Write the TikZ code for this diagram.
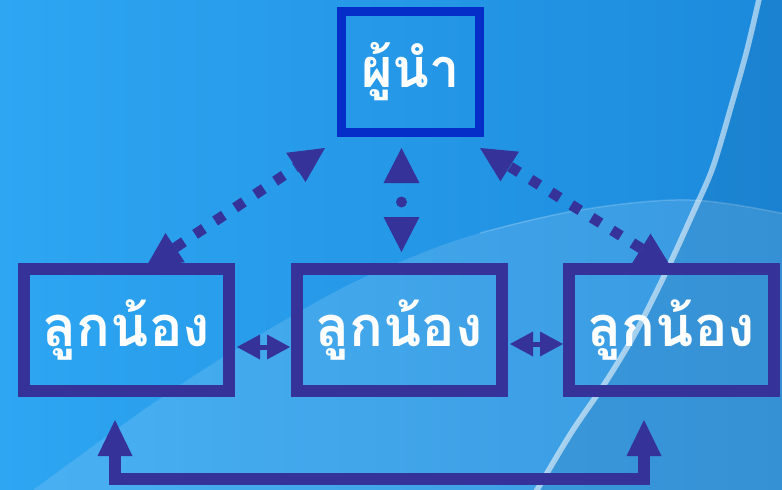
\documentclass[tikz,border=0pt]{standalone}
\usepackage{fontspec}
\newfontfamily\thaifont[Script=Thai]{Loma}
\usetikzlibrary{arrows.meta,calc}
\definecolor{arr}{RGB}{53,51,153}
\definecolor{leadc}{RGB}{5,45,200}
\definecolor{bgL}{RGB}{46,166,242}
\definecolor{bgR}{RGB}{28,138,220}
\pgfdeclarelayer{back}
\pgfdeclarelayer{mid}
\pgfsetlayers{back,mid,main}
\begin{document}
\begin{tikzpicture}[x=1pt,y=-1pt,
  subbox/.style={draw=arr,line width=12pt,minimum width=205pt,minimum height=122pt,inner sep=0pt,outer sep=0pt,text=white,font=\thaifont\bfseries\fontsize{56}{60}\selectfont},
  leadbox/.style={draw=leadc,line width=9pt,minimum width=138pt,minimum height=121pt,inner sep=0pt,outer sep=0pt,text=white,font=\thaifont\bfseries\fontsize{54}{56}\selectfont},
  dotarr/.style={arr,line width=10.5pt,dash pattern=on 10.5pt off 13.5pt,{Triangle[length=35pt,width=35pt,line width=0pt]}-{Triangle[length=35pt,width=35pt,line width=0pt]}},
  vdotarr/.style={arr,line width=11pt,line cap=round,dash pattern=on 0pt off 200pt,dash phase=181pt,{Triangle[length=35pt,width=36pt,line width=0pt]}-{Triangle[length=35pt,width=36pt,line width=0pt]}},
  harr/.style={arr,line width=5pt,{Triangle[length=23pt,width=25pt,line width=0pt]}-{Triangle[length=23pt,width=25pt,line width=0pt]}},
  solarr/.style={arr,line width=12pt,{Triangle[length=36pt,width=35pt,line width=0pt]}-{Triangle[length=36pt,width=35pt,line width=0pt]}}
]
\useasboundingbox (0,0) rectangle (782,490);
\begin{pgfonlayer}{back}
\begin{scope}
\clip (0,0) rectangle (782,490);
\shade[left color=bgL,right color=bgR] (0,0) rectangle (782,490);
\fill[white,opacity=0.13] plot[smooth,tension=0.6] coordinates {(790,215) (690,200) (580,210) (480,233) (400,262) (320,300) (180,385) (33,490) (20,500)} -- (790,500) -- cycle;
\draw[white,opacity=0.18,line width=1.5pt] plot[smooth,tension=0.6] coordinates {(790,215) (690,200) (580,210) (480,233)};
\fill[black,opacity=0.05] plot[smooth] coordinates {(760,0) (747,50) (733,100) (713,167) (693,213) (667,270) (637,330) (607,380) (573,430) (547,473) (536,490)} -- (782,490) -- (782,0) -- cycle;
\draw[white,opacity=0.55,line width=5.5pt] plot[smooth] coordinates {(760,-5) (747,50) (733,100) (713,167) (693,213) (667,270) (637,330) (607,380) (573,430) (547,473) (534,495)};
\end{scope}
\end{pgfonlayer}

\node[leadbox] (lead) at (410.5,72) {ผู้นำ};
\node[subbox] (sub1) at (126.5,330) {ลูกน้อง};
\node[subbox] (sub2) at (399,330) {ลูกน้อง};
\node[subbox] (sub3) at (671.5,330) {ลูกน้อง};

\begin{pgfonlayer}{mid}
\draw[dotarr] ($(sub1.north)+(19.5,-2)$) -- ($(lead.south west)+(-16.5,15.5)$);
\draw[dotarr] ($(sub3.north)+(-0.5,-2)$) -- ($(lead.south east)+(0.5,15.5)$);
\draw[vdotarr] ($(sub2.north)+(2.5,-121)$) -- ($(sub2.north)+(2.5,-17)$);
\draw[harr] ($(sub1.east)+(8,17)$) -- ($(sub2.west)+(-6.5,17)$);
\draw[harr] ($(sub2.east)+(8.5,14)$) -- ($(sub3.west)+(-6,14)$);
\draw[solarr] ($(sub1.south)+(-11.5,29)$) -- ($(sub1.south)+(-11.5,88)$) -| ($(sub3.south)+(-27.5,29)$);
\end{pgfonlayer}
\end{tikzpicture}
\end{document}
